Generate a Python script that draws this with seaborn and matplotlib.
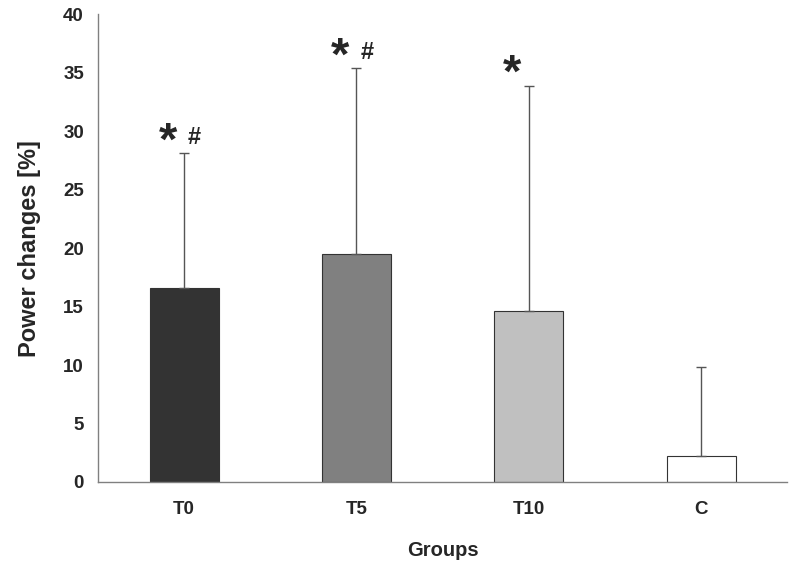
import numpy as np
import pandas as pd
import matplotlib
matplotlib.use("Agg")
import matplotlib.pyplot as plt
import seaborn as sns

groups = ["T0", "T5", "T10", "C"]
means = [16.6, 19.5, 14.6, 2.2]
sd_upper = [11.5, 15.9, 19.3, 7.6]
marks = ["* #", "* #", "*", ""]
bar_colors = ["#333333", "#808080", "#c0c0c0", "#ffffff"]

sns.set_style("white")
plt.rcParams["font.family"] = ["Liberation Sans", "DejaVu Sans"]

df = pd.DataFrame({"group": groups, "mean": means})

fig = plt.figure(figsize=(7.89, 5.71), dpi=100)
ax = fig.add_axes([0.124, 0.156, 0.874, 0.819])

sns.barplot(data=df, x="group", y="mean", hue="group", palette=bar_colors,
            width=0.4, edgecolor="#333333", linewidth=0.8, legend=False, ax=ax)

# one-sided (upper) error bars
x = np.arange(len(groups))
ax.errorbar(x, means, yerr=[np.zeros(len(means)), sd_upper], fmt="none",
            ecolor="#555555", elinewidth=1.0, capsize=3.5, capthick=1.0)

# significance marks above the error bars
for i, (m, s, lab) in enumerate(zip(means, sd_upper, marks)):
    top = m + s
    if lab.startswith("*"):
        ax.text(i - 0.095, top + 0.9, "*", ha="center", va="center",
                fontsize=34, fontweight="bold")
    if "#" in lab:
        ax.text(i + 0.06, top + 1.35, "#", ha="center", va="center",
                fontsize=17, fontweight="bold")

ax.set_ylim(0, 40)
ax.set_xlim(-0.5, 3.5)
ax.set_yticks(range(0, 41, 5))
ax.set_xticks(x)
ax.set_xticklabels(groups)

# category boundary ticks on the x axis
ax.set_xticks(np.arange(-0.5, 3.6, 1), minor=True)
ax.tick_params(axis="x", which="major", length=0, pad=14)
ax.tick_params(axis="x", which="minor", length=7, width=1, color="#808080", direction="out")
ax.tick_params(axis="y", length=6, width=1, color="#808080", direction="out", pad=4)

for lbl in ax.get_xticklabels() + ax.get_yticklabels():
    lbl.set_fontsize(13.5)
    lbl.set_fontweight("bold")

ax.set_xlabel("Groups", fontsize=14.5, fontweight="bold", labelpad=16)
ax.set_ylabel("Power changes [%]", fontsize=17, fontweight="bold", labelpad=16)

sns.despine(ax=ax)
for sp in ["left", "bottom"]:
    ax.spines[sp].set_color("#808080")
    ax.spines[sp].set_linewidth(1)

fig.savefig("out.png", dpi=100, facecolor="white")
